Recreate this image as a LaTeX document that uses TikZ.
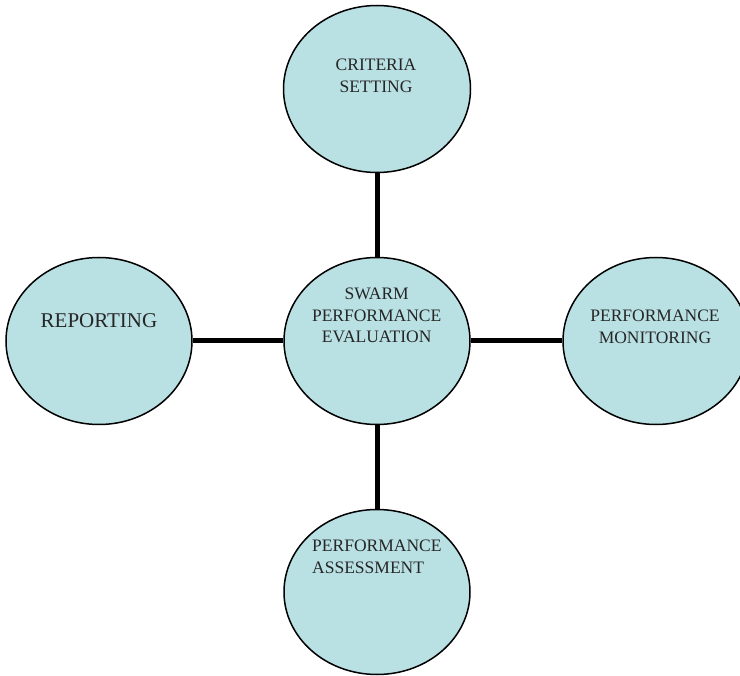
\documentclass[tikz,border=0pt]{standalone}
\usepackage{fontspec}
\setmainfont{Liberation Serif}
\usetikzlibrary{shapes.geometric}
\definecolor{bubblefill}{HTML}{B9E0E3}
\begin{document}
\begin{tikzpicture}[x=1pt,y=-1pt,
  bubble/.style={ellipse, draw=black, line width=1.5pt, fill=bubblefill, inner sep=0pt},
  link/.style={line width=5pt, draw=black},
  lbl/.style={font=\fontsize{17.5pt}{21.5pt}\selectfont, inner sep=0pt, align=center, text=black!85}]
\useasboundingbox (0,0) rectangle (740,676);
\clip (0,0) rectangle (740,676);
% ellipses
\node[bubble, minimum width=187pt, minimum height=167pt] (crit) at (377,89) {};
\node[bubble, minimum width=186pt, minimum height=167pt] (eval) at (377,341) {};
\node[bubble, minimum width=186pt, minimum height=167pt] (rep) at (99,341) {};
\node[bubble, minimum width=186pt, minimum height=167pt] (mon) at (656,341) {};
\node[bubble, minimum width=186pt, minimum height=165pt] (ass) at (377,592) {};
% connectors
\draw[link] (crit) -- (eval);
\draw[link] (eval) -- (ass);
\draw[link] (rep) -- (eval);
\draw[link] (eval) -- (mon);
% labels
\node[lbl] (tcrit) at (376,75.7) {CRITERIA\\SETTING};
\node[lbl] (teval) at (376.7,315.7) {SWARM\\PERFORMANCE\\EVALUATION};
\node[lbl, font=\fontsize{21pt}{25pt}\selectfont] (trep) at (99,321) {REPORTING};
\node[lbl] (tmon) at (655,326.7) {PERFORMANCE\\MONITORING};
\node[lbl, align=left, anchor=west] (tass) at (312,556.7) {PERFORMANCE\\ASSESSMENT};
\end{tikzpicture}
\end{document}
